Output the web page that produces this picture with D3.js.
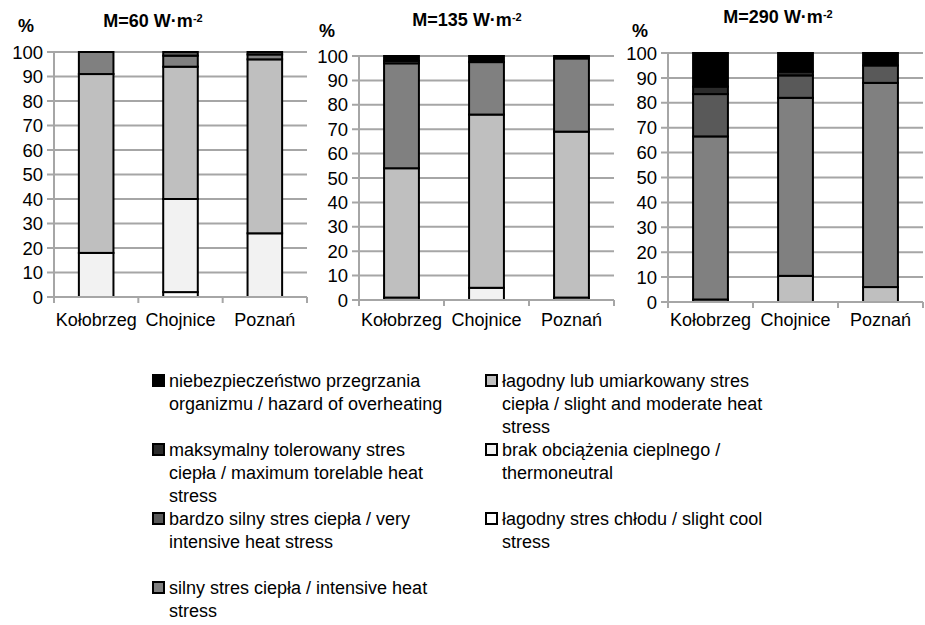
<html>
<style>
body { margin: 0; background: #fff; }
text { font-family: "Liberation Sans", Arial, sans-serif; fill: #000; }
.grid line { stroke: #a6a6a6; stroke-width: 2; }
.axis path, .axis line { stroke: #a6a6a6; stroke-width: 2; }
.title { font-weight: bold; font-size: 18px; }
</style>
<svg width="925" height="625"></svg>
<script src="https://d3js.org/d3.v7.min.js"></script>
<script>

// categories (bottom to top of each stack)
var classes = ["cool", "neutral", "slight", "intensive", "very", "max", "hazard"];
var colors = ["#ffffff", "#f2f2f2", "#bfbfbf", "#808080", "#595959", "#2b2b2b", "#000000"];
var stations = ["Kołobrzeg", "Chojnice", "Poznań"];
var yTicks = [0, 10, 20, 30, 40, 50, 60, 70, 80, 90, 100];

// % of days in each class, per station, for each metabolic rate
var m60 = [
  [0, 18, 73, 9, 0, 0, 0],
  [2, 38, 54, 4.5, 1.5, 0, 0],
  [0, 26, 71, 2, 1, 0, 0]
];
var m135 = [
  [0, 1, 53, 43, 1, 0, 2],
  [0, 5, 71, 21.5, 0, 0, 2.5],
  [0, 1, 68, 30, 0, 0, 1]
];
var m290 = [
  [0, 0, 1, 65.5, 17, 3, 13.5],
  [0, 0, 10.5, 71.5, 9, 1.5, 7.5],
  [0, 0, 6, 82, 7, 0, 5]
];

var legendLines = [
  ["niebezpieczeństwo przegrzania", "organizmu / hazard of overheating"],
  ["maksymalny tolerowany stres", "ciepła / maximum torelable heat", "stress"],
  ["bardzo silny stres ciepła / very", "intensive heat stress"],
  ["silny stres ciepła / intensive heat", "stress"],
  ["łagodny lub umiarkowany stres", "ciepła / slight and moderate heat", "stress"],
  ["brak obciążenia cieplnego /", "thermoneutral"],
  ["łagodny stres chłodu / slight cool", "stress"]
];

var svg = d3.select("svg");

var panels = [
  {data: m60, title: "M=60 W·m", left: 54, right: 307, top: 52, bottom: 297, tx: 153, ty: 27, px: 18, py: 32},
  {data: m135, title: "M=135 W·m", left: 359, right: 614, top: 56, bottom: 300, tx: 467, ty: 26, px: 319, py: 37},
  {data: m290, title: "M=290 W·m", left: 668, right: 923, top: 53, bottom: 302, tx: 778, ty: 23, px: 632, py: 37}
];

panels.forEach(function(p) {
  var g = svg.append("g");

  var x = d3.scaleBand()
    .domain(stations)
    .range([p.left, p.right])
    .paddingInner(0.59)
    .paddingOuter(0.295);

  var y = d3.scaleLinear()
    .domain([0, 100])
    .range([p.bottom, p.top]);

  // gridlines + y ticks
  g.append("g")
    .attr("class", "grid")
    .selectAll("line")
    .data(yTicks)
    .enter().append("line")
    .attr("x1", p.left - 7)
    .attr("x2", p.right)
    .attr("y1", d => y(d))
    .attr("y2", d => y(d));

  g.selectAll(".ylab")
    .data(yTicks)
    .enter().append("text")
    .attr("x", p.left - 11)
    .attr("y", d => y(d))
    .attr("dy", "0.36em")
    .attr("text-anchor", "end")
    .style("font-size", "18.5px")
    .text(d => d);

  // y axis line
  g.append("line")
    .attr("x1", p.left).attr("x2", p.left)
    .attr("y1", y(0)).attr("y2", y(100))
    .attr("stroke", "#a6a6a6").attr("stroke-width", 2);

  // stacked bars
  var rows = p.data.map(function(v, i) {
    var o = {station: stations[i]};
    classes.forEach(function(c, j) { o[c] = v[j]; });
    return o;
  });
  var series = d3.stack().keys(classes)(rows);

  g.selectAll(".layer")
    .data(series)
    .enter().append("g")
    .attr("fill", (d, i) => colors[i])
    .selectAll("rect")
    .data(d => d.filter(s => s[1] - s[0] > 0))
    .enter().append("rect")
    .attr("x", d => x(d.data.station))
    .attr("width", x.bandwidth())
    .attr("y", d => y(d[1]))
    .attr("height", d => y(d[0]) - y(d[1]))
    .attr("stroke", "#000")
    .attr("stroke-width", 2);

  // x axis
  var xa = g.append("g")
    .attr("class", "axis")
    .attr("transform", "translate(0," + y(0) + ")")
    .call(d3.axisBottom(x).tickSize(0).tickPadding(330 - p.bottom - 6));
  xa.select(".domain").remove();
  xa.selectAll("text").style("font-size", "18px").attr("dy", "0.1em");

  xa.append("line")
    .attr("x1", p.left).attr("x2", p.right);
  var step = x.step();
  xa.selectAll(".sep")
    .data(d3.range(stations.length + 1))
    .enter().append("line")
    .attr("x1", i => p.left + i * step)
    .attr("x2", i => p.left + i * step)
    .attr("y1", 0).attr("y2", 6);

  // title with superscript
  var t = g.append("text")
    .attr("class", "title")
    .attr("x", p.tx)
    .attr("y", p.ty)
    .attr("text-anchor", "middle")
    .text(p.title);
  t.append("tspan")
    .attr("dy", "-0.5em")
    .style("font-size", "11px")
    .text("-2");

  g.append("text")
    .attr("x", p.px)
    .attr("y", p.py)
    .style("font-weight", "bold")
    .style("font-size", "18px")
    .text("%");
});

// legend: two columns, series from top of stack downward
var order = [6, 5, 4, 3, 2, 1, 0];
var leg = svg.append("g");
order.forEach(function(ci, k) {
  var col = k < 4 ? 0 : 1;
  var row = col === 0 ? k : k - 4;
  var sx = col === 0 ? 153 : 486;
  var base = 387 + row * 69;
  leg.append("rect")
    .attr("x", sx)
    .attr("y", base - 12)
    .attr("width", 11)
    .attr("height", 11)
    .attr("fill", colors[ci])
    .attr("stroke", "#000")
    .attr("stroke-width", 2);
  var txt = leg.append("text")
    .attr("x", sx + 16)
    .attr("y", base)
    .style("font-size", "18px");
  legendLines[k].forEach(function(line, li) {
    txt.append("tspan")
      .attr("x", sx + 16)
      .attr("y", base + li * 23)
      .text(line);
  });
});

</script>
</html>
